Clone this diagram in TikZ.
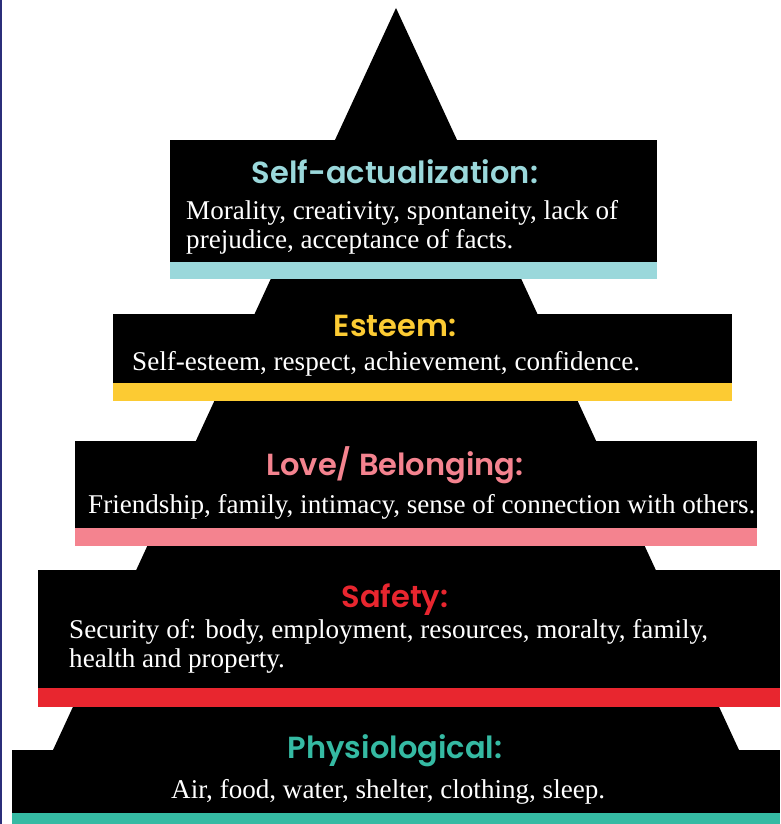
\documentclass[tikz,border=0pt]{standalone}
\usepackage{fontspec}
\setmainfont{Liberation Serif}
\newfontfamily\headfont{Poppins SemiBold}
\usepackage{xcolor}
\usepackage{tikz}
\definecolor{selfcol}{HTML}{9AD8DB}
\definecolor{esteemcol}{HTML}{FCCB33}
\definecolor{lovecol}{HTML}{F4838F}
\definecolor{safecol}{HTML}{E8262F}
\definecolor{physcol}{HTML}{35BAA3}
\definecolor{edgecol}{HTML}{2B2E7A}
\tikzstyle{tier} = [fill=black]
\tikzstyle{heading} = [anchor=base, inner sep=0pt, font=\headfont\fontsize{30.5}{30}\selectfont]
\tikzstyle{body} = [anchor=base west, inner sep=0pt, align=left, text=white, font=\fontsize{27.1}{29}\selectfont]

\begin{document}
\begin{tikzpicture}[x=1pt, y=-1pt]
\useasboundingbox (0,0) rectangle (780,824);

% pyramid
\fill[tier] (396,8) -- (739,750) -- (53,750) -- cycle;

% tiers
\fill[tier] (170,140) rectangle (657,262);
\fill[selfcol] (170,262) rectangle (657,279);
\fill[tier] (113,314) rectangle (732,383);
\fill[esteemcol] (113,383) rectangle (732,401);
\fill[tier] (75,441) rectangle (757,528);
\fill[lovecol] (75,528) rectangle (757,546);
\fill[tier] (38,570) rectangle (780,688);
\fill[safecol] (38,688) rectangle (780,707);
\fill[tier] (12,750) rectangle (780,813);
\fill[physcol] (12,813) rectangle (780,824);

\fill[edgecol] (0,0) rectangle (1.5,824);

% labels (multi-line bodies sit on their last baseline)
\node (selfhead) [heading, text=selfcol] at (395,183) {Self-actualization:};
\node (selftext) [body] at (186,248.5) {Morality, creativity, spontaneity, lack of\\prejudice, acceptance of facts.};
\node (esteemhead) [heading, text=esteemcol] at (395,336) {Esteem:};
\node (esteemtext) [body] at (132,370) {Self-esteem, respect, achievement, confidence.};
\node (lovehead) [heading, text=lovecol] at (395,475) {Love/ Belonging:};
\node (lovetext) [body] at (88,513) {Friendship, family, intimacy, sense of connection with others.};
\node (safehead) [heading, text=safecol] at (395,607) {Safety:};
\node (safetext) [body] at (69,667) {Security of: body, employment, resources, moralty, family,\\health and property.};
\node (physhead) [heading, text=physcol] at (395,758) {Physiological:};
\node (phystext) [body] at (171,798) {Air, food, water, shelter, clothing, sleep.};

\end{tikzpicture}
\end{document}
